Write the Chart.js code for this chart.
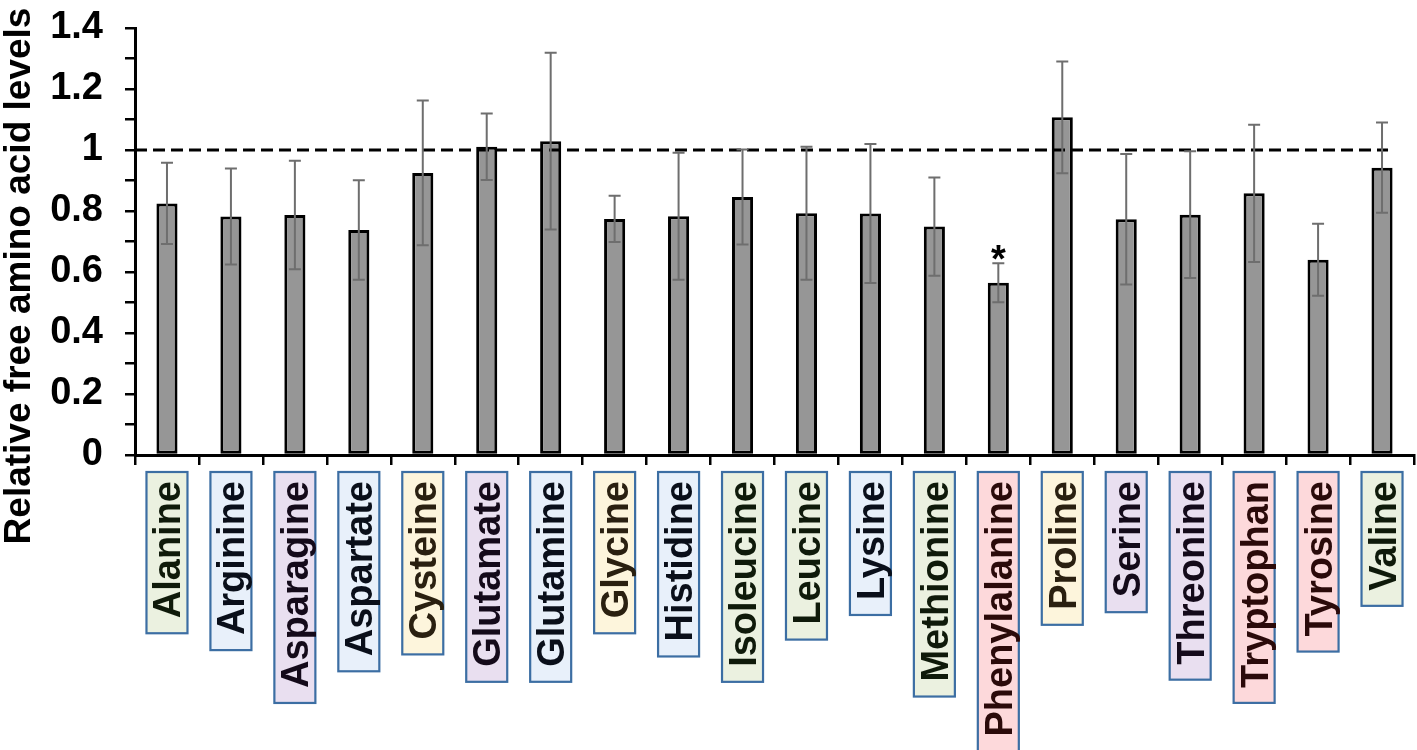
<!DOCTYPE html>
<html>
<head>
<meta charset="utf-8">
<script src="https://cdn.jsdelivr.net/npm/chart.js@4.4.1/dist/chart.umd.min.js"></script>
<style>
  html, body { margin: 0; padding: 0; background: #fff; }
  #wrap { width: 1417px; height: 750px; position: relative; }
</style>
</head>
<body>
<div id="wrap"><canvas id="aaChart"></canvas></div>
<script>
// data
const aminoAcids = ['Alanine', 'Arginine', 'Asparagine', 'Aspartate', 'Cysteine', 'Glutamate', 'Glutamine',
  'Glycine', 'Histidine', 'Isoleucine', 'Leucine', 'Lysine', 'Methionine', 'Phenylalanine', 'Proline',
  'Serine', 'Threonine', 'Tryptophan', 'Tyrosine', 'Valine'];
const relLevels = [0.825, 0.782, 0.787, 0.738, 0.925, 1.011, 1.029, 0.774, 0.783, 0.846,
  0.793, 0.792, 0.749, 0.565, 1.107, 0.773, 0.788, 0.858, 0.640, 0.942];
const relErrors = [0.133, 0.157, 0.178, 0.163, 0.237, 0.109, 0.290, 0.076, 0.208, 0.156,
  0.218, 0.228, 0.161, 0.064, 0.183, 0.214, 0.208, 0.225, 0.118, 0.148];
const significant = ['Phenylalanine'];
const referenceLevel = 1;
const yTitle = 'Relative free amino acid levels';

// label box groups (colour coding of the original figure)
const labelGroup = ['g', 'b', 'p', 'b', 'y', 'p', 'b', 'y', 'b', 'g', 'g', 'b', 'g', 'r', 'y', 'p', 'p', 'r', 'r', 'g'];
const groupFill = { g: '#ebf1e0', b: '#e8f0fa', p: '#e9dff0', y: '#fdf5dc', r: '#fdd9db' };
const groupText = { g: '#0f1a0a', b: '#0a0f1a', p: '#140a1a', y: '#2a2010', r: '#2b0a0a' };

const FONT = "'Liberation Sans', Arial, sans-serif";

const extrasPlugin = {
  id: 'extras',
  afterDatasetsDraw(chart) {
    const { ctx, chartArea } = chart;
    const x = chart.scales.x, y = chart.scales.y;
    ctx.save();

    // dashed reference line
    const yRef = y.getPixelForValue(referenceLevel);
    ctx.strokeStyle = '#000';
    ctx.lineWidth = 3;
    ctx.setLineDash([12, 6]);
    ctx.beginPath();
    ctx.moveTo(chartArea.left, yRef);
    ctx.lineTo(x.getPixelForValue(aminoAcids.length - 1) + 6, yRef);
    ctx.stroke();
    ctx.setLineDash([]);

    // error bars
    ctx.strokeStyle = '#6e6e6e';
    ctx.lineWidth = 2;
    relLevels.forEach((v, i) => {
      const cx = x.getPixelForValue(i);
      const top = y.getPixelForValue(v + relErrors[i]);
      const bot = y.getPixelForValue(v - relErrors[i]);
      ctx.beginPath();
      ctx.moveTo(cx, top); ctx.lineTo(cx, bot);
      ctx.moveTo(cx - 6, top); ctx.lineTo(cx + 6, top);
      ctx.moveTo(cx - 6, bot); ctx.lineTo(cx + 6, bot);
      ctx.stroke();
      if (significant.includes(aminoAcids[i])) {
        ctx.fillStyle = '#000';
        ctx.font = 'bold 38px ' + FONT;
        ctx.textAlign = 'center';
        ctx.textBaseline = 'alphabetic';
        ctx.fillText('*', cx, top + 9);
      }
    });
    ctx.restore();
  },
  afterDraw(chart) {
    const { ctx, chartArea } = chart;
    const x = chart.scales.x;
    ctx.save();

    // boxed, rotated category labels
    ctx.font = 'bold 38px ' + FONT;
    const capH = 27;
    const boxW = 41;
    const boxTop = chartArea.bottom + 17;
    aminoAcids.forEach((name, i) => {
      const cx = x.getPixelForValue(i);
      const tw = ctx.measureText(name).width;
      const boxH = tw + 24;
      ctx.fillStyle = groupFill[labelGroup[i]];
      ctx.fillRect(cx - boxW / 2, boxTop, boxW, boxH);
      ctx.strokeStyle = '#3c6ea3';
      ctx.lineWidth = 2.2;
      ctx.strokeRect(cx - boxW / 2, boxTop, boxW, boxH);
      ctx.save();
      ctx.translate(cx, boxTop);
      ctx.rotate(-Math.PI / 2);
      ctx.fillStyle = groupText[labelGroup[i]];
      ctx.textAlign = 'right';
      ctx.textBaseline = 'alphabetic';
      ctx.fillText(name, -9, capH / 2);
      ctx.restore();
    });

    // y axis title
    ctx.font = 'bold 37px ' + FONT;
    ctx.fillStyle = '#000';
    ctx.translate(16.5, 276);
    ctx.rotate(-Math.PI / 2);
    ctx.textAlign = 'center';
    ctx.textBaseline = 'alphabetic';
    ctx.fillText(yTitle, 0, capH / 2);
    ctx.restore();
  }
};

new Chart(document.getElementById('aaChart'), {
  type: 'bar',
  data: {
    labels: aminoAcids,
    datasets: [{
      data: relLevels,
      backgroundColor: '#969696',
      borderColor: '#000',
      borderWidth: 3,
      borderSkipped: false,
      categoryPercentage: 1,
      barPercentage: 0.33
    }]
  },
  options: {
    responsive: true,
    maintainAspectRatio: false,
    animation: false,
    layout: { padding: { top: 28, right: 3, left: 0, bottom: 0 } },
    plugins: { legend: { display: false }, tooltip: { enabled: false } },
    scales: {
      x: {
        ticks: { display: false, autoSkip: false },
        grid: { display: true, drawOnChartArea: false, drawTicks: true, tickLength: 10, color: '#000', lineWidth: 2.5 },
        border: { display: true, color: '#000', width: 3 },
        afterFit(scale) { scale.height = 295; scale.paddingLeft = 0; scale.paddingRight = 0; }
      },
      y: {
        min: 0,
        max: 1.4,
        ticks: {
          stepSize: 0.1,
          autoSkip: false,
          padding: 22,
          color: '#000',
          font: { family: FONT, size: 38, weight: 'bold' },
          callback: (value, index) => index % 2 === 0 ? String(Math.round(value * 10) / 10) : ''
        },
        grid: { display: true, drawOnChartArea: false, drawTicks: true, tickLength: 10, color: '#000', lineWidth: 2.5 },
        border: { display: true, color: '#000', width: 3 },
        afterFit(scale) { scale.width = 135; scale.paddingTop = 0; scale.paddingBottom = 0; }
      }
    }
  },
  plugins: [extrasPlugin]
});
</script>
</body>
</html>
